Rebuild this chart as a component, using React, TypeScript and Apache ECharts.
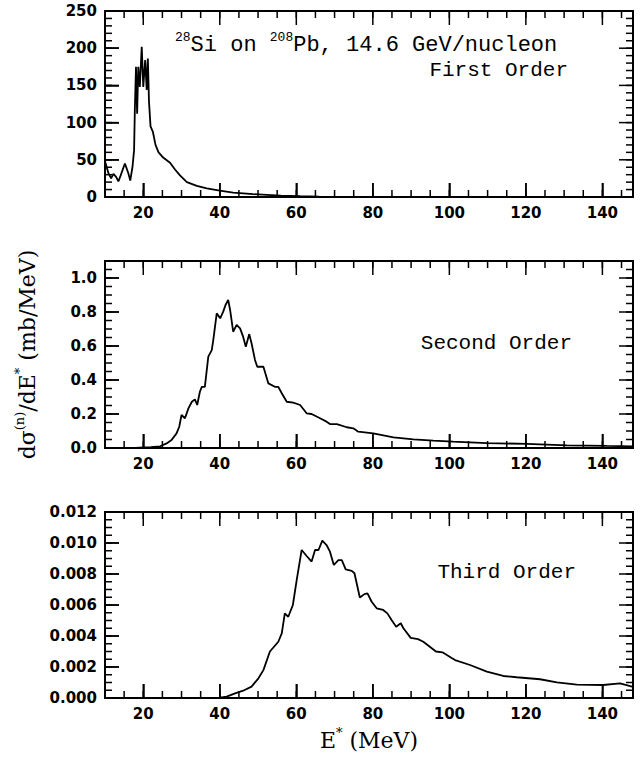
import React, { useEffect, useRef } from "react";
import * as echarts from "echarts";

// ---------- data ----------
const E1 = [10, 10.9, 11.6, 12.2, 12.9, 13.5, 14.1, 15.2, 16.1, 16.6, 17.2, 17.6, 17.8, 18.1, 18.4, 18.7, 19.1, 19.6, 20.0, 20.5, 20.9, 21.2, 21.5, 21.9, 22.5, 23.2, 24.0, 25.2, 27.0, 28.3, 29.6, 31.4, 34.0, 36.6, 40.0, 43.5, 48.7, 52.3, 56.0, 61.0, 66.0, 72.0, 80.0, 90.0];
const V1 = [48, 32, 25, 31, 27, 21, 29, 45, 32, 22, 41, 63, 117, 175, 112, 175, 148, 202, 148, 184, 144, 186, 128, 95, 88, 70, 60, 53, 46, 37, 29, 20, 15, 11.5, 8.5, 6, 3.8, 2.8, 1.8, 1.0, 0.5, 0.2, 0, 0];

const E2 = [18, 20, 22, 24.4, 26.1, 27.4, 28.7, 29.4, 30.0, 30.9, 31.8, 32.7, 33.5, 34.1, 34.8, 35.3, 36.1, 37.0, 37.9, 38.3, 39.2, 40.1, 40.9, 41.5, 42.2, 42.7, 43.5, 44.4, 45.3, 46.1, 46.8, 47.7, 48.3, 49.2, 49.8, 51.4, 52.7, 54.4, 55.3, 56.2, 57.5, 59.2, 61.0, 62.7, 64.0, 66.2, 67.9, 68.8, 70.6, 73.2, 74.9, 76.2, 80.1, 85.4, 90.6, 95.8, 101, 109.8, 120.2, 130.7, 141.1, 148];
const V2 = [0, 0.003, 0.005, 0.01, 0.027, 0.047, 0.086, 0.125, 0.194, 0.175, 0.233, 0.272, 0.286, 0.253, 0.331, 0.36, 0.36, 0.537, 0.576, 0.635, 0.792, 0.763, 0.802, 0.841, 0.871, 0.812, 0.684, 0.724, 0.704, 0.655, 0.596, 0.67, 0.616, 0.518, 0.478, 0.478, 0.38, 0.36, 0.36, 0.322, 0.272, 0.267, 0.253, 0.204, 0.2, 0.175, 0.155, 0.141, 0.141, 0.122, 0.116, 0.096, 0.086, 0.063, 0.051, 0.043, 0.037, 0.029, 0.024, 0.016, 0.012, 0.01];

const E3 = [36.6, 40, 41.8, 44, 46.1, 48.3, 50.1, 51.4, 53.1, 55.3, 56.2, 57.0, 57.9, 59.1, 60.1, 61.4, 62.7, 64.0, 64.9, 65.8, 66.8, 67.9, 68.8, 69.8, 71.0, 71.9, 72.9, 74.5, 75.2, 76.6, 77.8, 78.6, 79.7, 81.0, 82.7, 83.8, 84.9, 86.1, 87.3, 88.0, 89.9, 91.8, 93.2, 96.5, 98.2, 100.5, 101.5, 105.4, 109.8, 114.1, 117.6, 123.7, 128.1, 133.3, 140.2, 144.6, 148];
const V3 = [0, 0.00003, 0.00009, 0.0003, 0.00047, 0.00073, 0.00127, 0.0018, 0.003, 0.00363, 0.00417, 0.00546, 0.00524, 0.006, 0.0076, 0.00955, 0.00916, 0.0088, 0.00955, 0.00955, 0.01015, 0.00987, 0.00944, 0.00858, 0.0089, 0.0089, 0.0083, 0.0082, 0.00805, 0.00648, 0.0067, 0.00675, 0.00621, 0.00579, 0.00568, 0.00546, 0.00503, 0.0046, 0.00482, 0.0045, 0.00388, 0.0038, 0.00363, 0.003, 0.00295, 0.0026, 0.00245, 0.00213, 0.0017, 0.00142, 0.00134, 0.00121, 0.00101, 0.00086, 0.00084, 0.00095, 0.00072];

const X_MAJOR = [20, 40, 60, 80, 100, 120, 140];
const Y1_MAJOR = [0, 50, 100, 150, 200, 250];
const Y2_MAJOR = [0, 0.2, 0.4, 0.6, 0.8, 1.0];
const Y3_MAJOR = [0, 0.002, 0.004, 0.006, 0.008, 0.01, 0.012];
const Y_DIGITS = [0, 1, 3];

const TITLE = ["28", "Si on ", "208", "Pb, 14.6 GeV/nucleon"];
const ORDERS = ["First Order", "Second Order", "Third Order"];
const X_NAME = "{n|E}{s|*}{n| (MeV)}";
const Y_NAME = "{n|dσ}{s|(n)}{n|/dE}{s|*}{n| (mb/MeV)}";

// ---------- layout ----------
const X_MIN = 10;
const X_MAX = 148;
const Y_MAX = [250, 1.1, 0.012];
const Y_MINOR_STEP = [10, 0.05, 0.0005];
const GRIDS = [
  { left: 105, top: 11, width: 528, height: 186 },
  { left: 105, top: 261, width: 528, height: 187 },
  { left: 105, top: 512, width: 528, height: 186 },
];

function steps(min: number, max: number, step: number) {
  const out: number[] = [];
  const n = Math.round((max - min) / step);
  for (let i = 0; i <= n; i++) out.push(+(min + i * step).toFixed(6));
  return out;
}

const TICK_FONT = {
  fontFamily: "DejaVu Sans",
  fontWeight: "bold" as const,
  fontSize: 15,
  color: "#000",
};
const MAJOR_LEN = 14;
const MINOR_LEN = 7;
const TICK_W = 1.5;

const serifRich = {
  n: { fontFamily: "DejaVu Serif", fontWeight: "normal", fontSize: 22, lineHeight: 24, color: "#000" },
  s: { fontFamily: "DejaVu Serif", fontWeight: "normal", fontSize: 13, lineHeight: 14, color: "#000", padding: [0, 0, 16, 0] },
};
const monoRich = {
  n: { fontFamily: "Liberation Mono", fontWeight: "normal", fontSize: 22, lineHeight: 24, color: "#000" },
  s: { fontFamily: "Liberation Mono", fontWeight: "normal", fontSize: 13, lineHeight: 14, color: "#000", padding: [0, 0, 16, 0] },
};

export default function App() {
  const ref = useRef<HTMLDivElement>(null);
  useEffect(() => {
    if (!ref.current) return;
    const chart = echarts.init(ref.current, null, { renderer: "svg" });
    const xMinor = steps(X_MIN, 145, 5);
    const yMajors = [Y1_MAJOR, Y2_MAJOR, Y3_MAJOR];

    const xAxes: any[] = GRIDS.map((_, gi) => {
      const ax: any = {
        type: "value",
        gridIndex: gi,
        min: X_MIN,
        max: X_MAX,
        position: "bottom",
        axisLine: { show: true, onZero: false, lineStyle: { color: "#000", width: 2 } },
        splitLine: { show: false },
        axisTick: {
          show: true,
          inside: true,
          length: MAJOR_LEN,
          customValues: X_MAJOR,
          lineStyle: { color: "#000", width: TICK_W },
        },
        axisLabel: { show: true, customValues: X_MAJOR, margin: 8, ...TICK_FONT },
      };
      if (gi === 2) {
        ax.name = X_NAME;
        ax.nameLocation = "middle";
        ax.nameGap = 30;
        ax.nameMoveOverlap = false;
        ax.nameTextStyle = { rich: serifRich };
      }
      return ax;
    });

    const yAxes: any[] = GRIDS.map((_, gi) => {
      const digits = Y_DIGITS[gi];
      const ax: any = {
        type: "value",
        gridIndex: gi,
        min: 0,
        max: Y_MAX[gi],
        position: "left",
        axisLine: { show: true, onZero: false, lineStyle: { color: "#000", width: 2 } },
        splitLine: { show: false },
        axisTick: {
          show: true,
          inside: true,
          length: MAJOR_LEN,
          customValues: yMajors[gi],
          lineStyle: { color: "#000", width: TICK_W },
        },
        axisLabel: {
          show: true,
          customValues: yMajors[gi],
          margin: 8,
          formatter: (v: number) => v.toFixed(digits),
          ...TICK_FONT,
        },
      };
      if (gi === 1) {
        ax.name = Y_NAME;
        ax.nameLocation = "middle";
        ax.nameRotate = 90;
        ax.nameGap = 66;
        ax.nameMoveOverlap = false;
        ax.nameTextStyle = { rich: serifRich };
      }
      return ax;
    });

    const mk = (E: number[], V: number[]) => E.map((e, i) => [e, V[i]]);
    const datas = [mk(E1, V1), mk(E2, V2), mk(E3, V3)];
    const series: any[] = datas.map((d, gi) => ({
      type: "line",
      xAxisIndex: gi,
      yAxisIndex: gi,
      data: d,
      symbolSize: 0,
      itemStyle: { opacity: 0 },
      lineStyle: { color: "#000", width: 1.8 },
      z: 3,
    }));

    const tickStyle = { stroke: "#000", lineWidth: TICK_W, fill: "none" };

    GRIDS.forEach((_, gi) => {
      const yTop = Y_MAX[gi];
      const xTicks = [
        ...X_MAJOR.map((v) => [v, 0, MAJOR_LEN]),
        ...xMinor.map((v) => [v, 0, MINOR_LEN]),
      ];
      series.push({
        type: "custom",
        xAxisIndex: gi,
        yAxisIndex: gi,
        dimensions: ["x", "y", "len"],
        encode: { x: 0, y: 1 },
        data: xTicks,
        clip: false,
        silent: true,
        z: 4,
        renderItem: (params: any, api: any) => {
          const v = api.value(0);
          const len = Number(xTicks[params.dataIndex][2]);
          const pb = api.coord([v, 0]);
          const pt = api.coord([v, yTop]);
          return {
            type: "group",
            children: [
              { type: "line", shape: { x1: pb[0], y1: pb[1], x2: pb[0], y2: pb[1] - len }, style: tickStyle },
              { type: "line", shape: { x1: pt[0], y1: pt[1], x2: pt[0], y2: pt[1] + len }, style: tickStyle },
            ],
          };
        },
      });
      const yMinor = steps(0, Y_MAX[gi], Y_MINOR_STEP[gi]);
      const yTicks = [
        ...yMajors[gi].map((v) => [X_MIN, v, MAJOR_LEN]),
        ...yMinor.map((v) => [X_MIN, v, MINOR_LEN]),
      ];
      series.push({
        type: "custom",
        xAxisIndex: gi,
        yAxisIndex: gi,
        dimensions: ["x", "y", "len"],
        encode: { x: 0, y: 1 },
        data: yTicks,
        clip: false,
        silent: true,
        z: 4,
        renderItem: (params: any, api: any) => {
          const v = api.value(1);
          const len = Number(yTicks[params.dataIndex][2]);
          const pl = api.coord([X_MIN, v]);
          const pr = api.coord([X_MAX, v]);
          return {
            type: "group",
            children: [
              { type: "line", shape: { x1: pl[0], y1: pl[1], x2: pl[0] + len, y2: pl[1] }, style: tickStyle },
              { type: "line", shape: { x1: pr[0], y1: pr[1], x2: pr[0] - len, y2: pr[1] }, style: tickStyle },
            ],
          };
        },
      });
    });

    const orderPos = [
      { right: 73, top: 60 },
      { right: 69, top: 333 },
      { right: 65, top: 562 },
    ];

    const titles: any[] = [
      {
        text: `{s|${TITLE[0]}}{n|${TITLE[1]}}{s|${TITLE[2]}}{n|${TITLE[3]}}`,
        left: 175,
        top: 33,
        padding: 0,
        textStyle: { fontWeight: "normal", rich: monoRich },
      },
      ...ORDERS.map((t, i) => ({
        text: t,
        right: orderPos[i].right,
        top: orderPos[i].top,
        padding: 0,
        textStyle: {
          fontFamily: "Liberation Mono",
          fontSize: 21,
          lineHeight: 21,
          fontWeight: "normal",
          color: "#000",
        },
      })),
    ];

    chart.setOption({
      animation: false,
      title: titles,
      grid: GRIDS.map((g) => ({
        ...g,
        show: true,
        borderColor: "#000",
        borderWidth: 2,
      })),
      xAxis: xAxes,
      yAxis: yAxes,
      series,
    });
    return () => chart.dispose();
  }, []);
  return (
    <div
      ref={ref}
      style={{ position: "absolute", left: 0, top: 0, width: 641, height: 757 }}
    />
  );
}
